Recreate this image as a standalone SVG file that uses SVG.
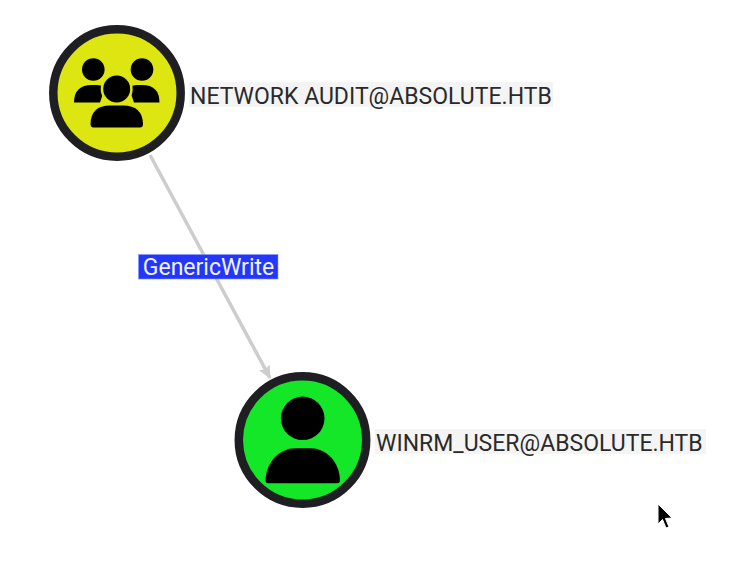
<svg xmlns="http://www.w3.org/2000/svg" width="754" height="567" viewBox="0 0 754 567">
<style>
.ring{stroke:#1f1f23;stroke-width:8.500}
.lbl{font-family:Roboto,"Liberation Sans",sans-serif;font-size:23px;fill:#2a2a2a}
.lblbg{fill:#f4f4f4}
.edge{stroke:#cdcdcd;stroke-width:3.500;fill:none}
</style>
<defs>
<marker id="arrow" markerUnits="userSpaceOnUse" markerWidth="14" markerHeight="16" refX="12" refY="6" orient="auto">
<path d="M0,0L13,6L0,12L2,6Z" fill="#cdcdcd"/>
</marker>
</defs>
<rect width="754" height="567" fill="#fff"/>
<g id="connectors">
<path class="edge" d="M150,155L270,378" marker-end="url(#arrow)"/>
</g>
<g id="edge-label">
<rect x="138.500" y="254.500" width="139.500" height="24.500" fill="#2336fb" stroke="#8c96fb" stroke-width="0.600"/>
<text x="208.500" y="275" text-anchor="middle" font-family="Roboto,'Liberation Sans',sans-serif" font-size="23" fill="#f2f2ff">GenericWrite</text>
</g>
<g id="node-network-audit">
<circle class="ring" cx="117" cy="93" r="63.700" fill="#dde610"/>
<circle cx="93.300" cy="69.500" r="11.300"/>
<circle cx="142" cy="69.500" r="11.300"/>
<path d="M74,102.500Q74,85 92,85L97,85Q102,85 105,88L100,102.500Z"/>
<path d="M159.500,102.500Q159.500,85 142,85L137,85Q132,85 129,88L134,102.500Z"/>
<circle cx="116.700" cy="89" r="16" fill="#dde610"/>
<circle cx="116.700" cy="89" r="13.500"/>
<path d="M90.500,124Q91,105.500 110,105.500L123,105.500Q142.500,105.500 143,124Q143,127.500 140,127.500L93.500,127.500Q90.500,127.500 90.500,124Z"/>
<rect class="lblbg" x="189" y="82" width="364" height="25"/>
<text class="lbl" x="190" y="103.500">NETWORK AUDIT@ABSOLUTE.HTB</text>
</g>
<g id="node-winrm-user">
<circle class="ring" cx="302.500" cy="440" r="63.700" fill="#14e628"/>
<circle cx="302.700" cy="418.300" r="21.800"/>
<path d="M265.500,480C266,462 280,448.300 295,448.300L311,448.300C326,448.300 339.500,462 340,480Q340,483.300 337,483.300L268,483.300Q265.500,483.300 265.500,480Z"/>
<rect class="lblbg" x="375" y="429" width="331" height="25"/>
<text class="lbl" x="376" y="450.500">WINRM_USER@ABSOLUTE.HTB</text>
</g>
<path id="cursor" d="M658,504L658,524L662.500,519.500L666,528L669,527L665.500,518.500L672,518Z" fill="#000" stroke="#fff" stroke-width="1"/>
</svg>
